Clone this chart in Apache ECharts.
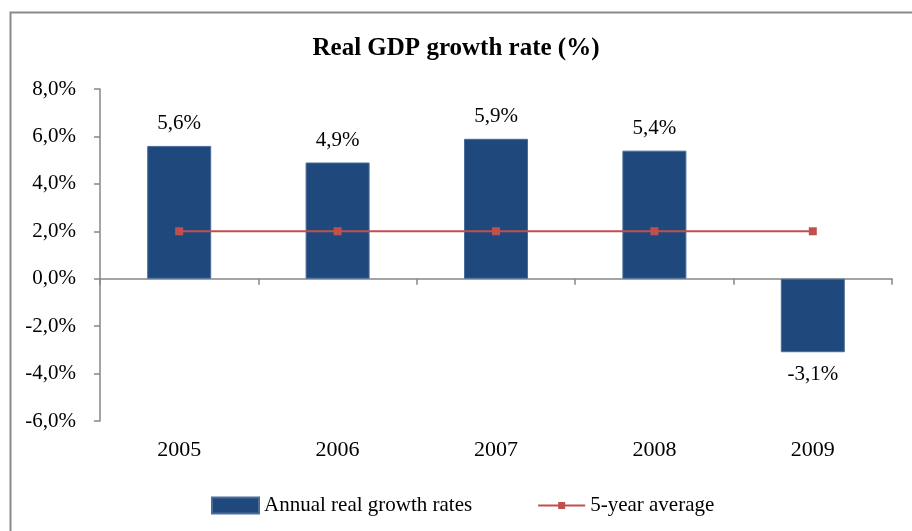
<!DOCTYPE html>
<html>
<head>
<meta charset="utf-8">
<script src="https://cdn.jsdelivr.net/npm/echarts@6/dist/echarts.min.js"></script>
<style>html,body{margin:0;padding:0;background:#fff;}#c{width:912px;height:531px;}</style>
</head>
<body>
<div id="c"></div>
<script>
var categories = ['2005', '2006', '2007', '2008', '2009'];
var growthRates = [5.6, 4.9, 5.9, 5.4, -3.1];
var fiveYearAverage = [2.0, 2.0, 2.0, 2.0, 2.0];
var yTicks = { min: -6, max: 8, interval: 2 };
var titleText = 'Real GDP growth rate (%)';
var seriesNames = ['Annual real growth rates', '5-year average'];

function pct(v) { return v.toFixed(1).replace('.', ',') + '%'; }

var serif = '"Liberation Serif", "Times New Roman", serif';
var chart = echarts.init(document.getElementById('c'), null, { renderer: 'canvas' });

var barData = growthRates.map(function (v) {
  return {
    value: v,
    label: v < 0 ? { position: 'bottom', distance: 12 } : { position: 'top', distance: 12 }
  };
});

chart.setOption({
  animation: false,
  backgroundColor: '#fff',
  graphic: [{
    type: 'rect', left: 8, top: 10, z: -1,
    shape: { width: 1000, height: 1000 },
    style: { fill: 'none', stroke: '#8a8a8a', lineWidth: 2 }
  }],
  title: {
    text: titleText, left: 'center', top: 31,
    textStyle: { fontFamily: serif, fontWeight: 'bold', fontSize: 25, color: '#000' }
  },
  grid: { left: 100, right: 20, top: 89, bottom: 110, containLabel: false },
  legend: {
    bottom: 10, left: 206, itemGap: 66, itemWidth: 47, itemHeight: 16,
    textStyle: { fontFamily: serif, fontSize: 21, color: '#000' },
    data: [
      { name: seriesNames[0], icon: 'rect' },
      { name: seriesNames[1], icon: 'path://M0,7 L47,7 L47,9 L0,9 Z M20,4.5 L27,4.5 L27,11.5 L20,11.5 Z', itemStyle: { color: '#C0504D' } }
    ]
  },
  xAxis: {
    type: 'category', data: categories,
    axisLine: { onZero: true, lineStyle: { color: '#868686', width: 1.5 } },
    axisTick: { show: true, alignWithLabel: false, length: 6, inside: false, lineStyle: { color: '#868686', width: 1.5 } },
    axisLabel: { fontFamily: serif, fontSize: 22, color: '#000', margin: 18 },
    position: 'bottom'
  },
  yAxis: {
    type: 'value', min: yTicks.min, max: yTicks.max, interval: yTicks.interval,
    axisLine: { show: true, lineStyle: { color: '#868686', width: 1.5 } },
    axisTick: { show: true, length: 6, lineStyle: { color: '#868686', width: 1.5 } },
    splitLine: { show: false },
    axisLabel: { fontFamily: serif, fontSize: 21, color: '#000', margin: 24, formatter: pct }
  },
  series: [{
    name: seriesNames[0], type: 'bar', data: barData, barWidth: 64,
    itemStyle: { color: '#1F497D', borderColor: '#4a6c9b', borderWidth: 1 },
    label: { show: true, fontFamily: serif, fontSize: 21, color: '#000', formatter: function (p) { return pct(p.value); } }
  }, {
    name: seriesNames[1], type: 'line', data: fiveYearAverage,
    symbol: 'rect', symbolSize: 8,
    lineStyle: { color: '#C0504D', width: 2 },
    itemStyle: { color: '#C0504D' }
  }]
});
</script>
</body>
</html>
